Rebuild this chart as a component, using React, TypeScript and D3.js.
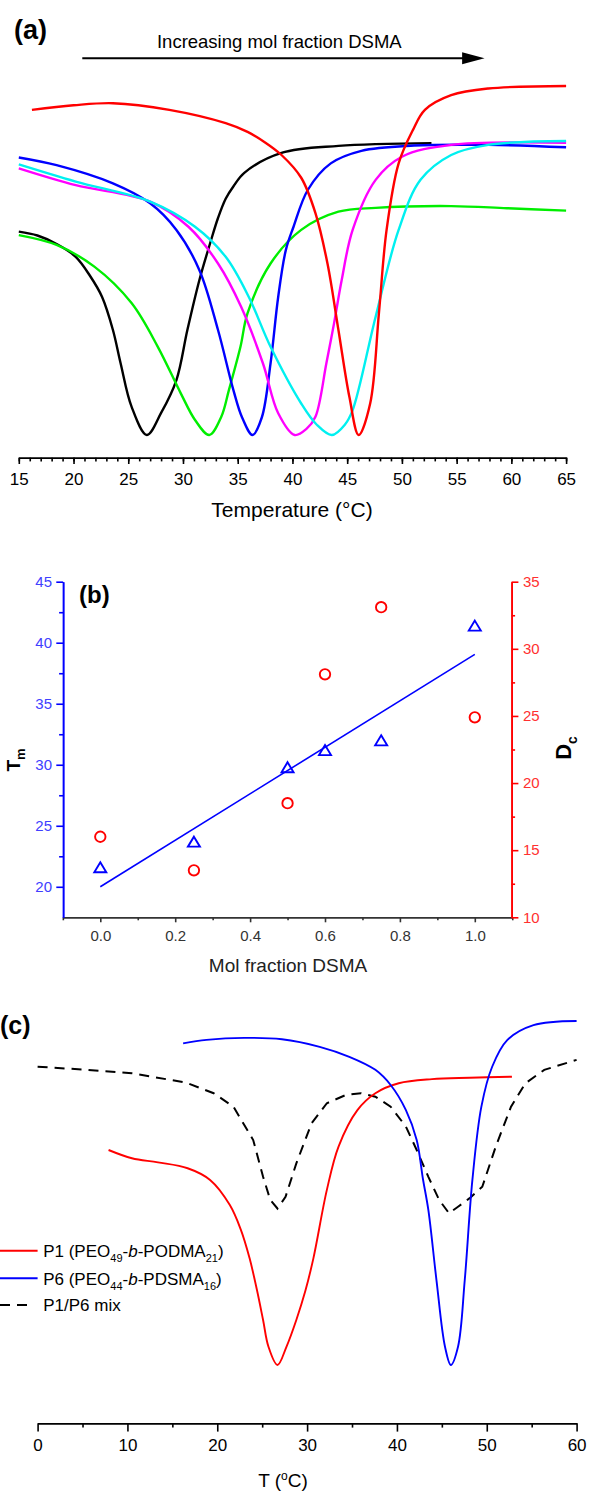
import React, { useRef, useEffect } from 'react';
import * as d3 from 'd3';

type Pt = [number, number];

// ---------- panel (a): heat flow (a.u.) vs temperature, increasing DSMA ----------
const curveBlack: Pt[] = [[15, 58.1], [16.7, 57.0], [18.5, 54.5], [20.2, 50.9], [21.5, 45.5], [22.6, 39.5], [23.6, 30], [24.3, 20.5], [25.3, 8.1], [26.7, 0], [28.0, 6.3], [29.4, 15.7], [30.4, 30], [31.5, 44.3], [32.5, 55], [33.2, 62], [33.9, 67.5], [34.6, 71], [35.6, 74.9], [39.0, 80.6], [44.2, 82.6], [52.7, 83.4]];
const curveGreen: Pt[] = [[15, 57.1], [18.45, 54.3], [21.9, 48.1], [25.3, 37.7], [27.7, 25.2], [29.8, 11.9], [31.1, 4.3], [32.4, 0], [33.5, 5.2], [34.2, 12.9], [35.25, 25.2], [35.9, 34.8], [38.0, 49], [40.8, 58.6], [44.2, 63.8], [47.6, 64.9], [54.5, 65.4], [59.6, 64.8], [65, 64.1]];
const curveBlue: Pt[] = [[15, 79.3], [18.45, 77.1], [23.6, 71.9], [27.0, 66.2], [29.4, 58.6], [31.5, 47.1], [33.2, 30], [34.6, 12.9], [35.4, 5], [36.35, 0], [37.2, 5], [38.0, 20.5], [38.7, 39.5], [39.4, 52.9], [40.1, 59.5], [41.4, 70], [43.5, 77.6], [46.3, 81.2], [51.1, 82.7], [57.9, 82.9], [65, 82.2]];
const curveMagenta: Pt[] = [[15, 76.2], [20.2, 71.4], [27.0, 66.7], [30.5, 59.5], [33.2, 49], [35.3, 36.7], [37.3, 20.5], [38.7, 6.2], [40.2, 0], [41.3, 1.8], [42.1, 5.2], [43.1, 20.5], [43.8, 31.9], [44.5, 44.3], [45.5, 58.6], [47.6, 72.9], [50.0, 79.5], [54.5, 82.9], [65, 83.5]];
const curveCyan: Pt[] = [[15, 77.3], [20.2, 72.4], [27.0, 66.7], [31.1, 59.5], [33.9, 50.9], [36.0, 39.5], [38.0, 25.2], [40.8, 9], [42.2, 3], [43.6, 0], [44.8, 3], [45.5, 7.1], [47.6, 33.8], [49.7, 58.6], [51.7, 72.9], [54.5, 80], [57.9, 82.9], [65, 84]];
const curveRed: Pt[] = [[16.2, 92.9], [20, 94.2], [23.6, 94.8], [28.75, 92.9], [33.9, 89.1], [35.9, 86.6], [37.5, 83.6], [39.0, 80.0], [40.8, 73.5], [42.1, 63.4], [43.2, 49], [44.2, 30], [45.2, 10.9], [46.05, 0], [47.1, 9], [47.9, 34.8], [48.6, 58.6], [49.7, 77.6], [51.0, 87.1], [52.1, 92.9], [54.5, 97.1], [57.9, 99], [65, 99.7]];
const ticksA = [15, 20, 25, 30, 35, 40, 45, 50, 55, 60, 65];

// ---------- panel (b): Tm and Dc vs mol fraction DSMA ----------
const fracDSMA = [0, 0.25, 0.5, 0.6, 0.75, 1.0];
const tmValues = [21.6, 23.7, 29.8, 31.2, 32.0, 41.4];
const dcValues = [16.0, 13.5, 18.5, 28.1, 33.1, 24.9];
const tmFit: Pt[] = [[0, 20.0], [1.0, 39.05]];
const ticksBx = [0, 0.2, 0.4, 0.6, 0.8, 1.0];
const minorBx = [-0.1, 0.1, 0.3, 0.5, 0.7, 0.9, 1.1];
const ticksBl = [20, 25, 30, 35, 40, 45];
const minorBl = [22.5, 27.5, 32.5, 37.5, 42.5];
const ticksBr = [10, 15, 20, 25, 30, 35];
const minorBr = [12.5, 17.5, 22.5, 27.5, 32.5];

// ---------- panel (c): P1, P6 and their mixture ----------
const curveP1: Pt[] = [[7.9, 62.5], [10.5, 60.1], [13.4, 58.9], [16.7, 57.2], [19.2, 53.8], [21.4, 46.5], [22.6, 39.5], [23.6, 31], [24.4, 22], [25.1, 13.1], [25.7, 5.3], [26.7, 0], [27.7, 5.3], [28.8, 13.1], [29.8, 21.5], [30.7, 31], [32.2, 50.9], [33.5, 63.5], [35.6, 74.1], [37.6, 79.0], [40.2, 81.9], [43.9, 83.1], [48.1, 83.5], [52.8, 83.8]];
const curveP6: Pt[] = [[16.2, 93.5], [18.8, 94.5], [23.0, 95.1], [27.2, 94.7], [31.4, 92.5], [34.7, 89.6], [37.6, 85.8], [39.3, 81.4], [41.0, 74.1], [42.2, 65.4], [42.9, 54], [43.5, 45], [44.4, 24.7], [45.35, 5.3], [46.0, 0], [46.8, 5.3], [47.55, 24.7], [48.4, 53.8], [49.4, 75.1], [50.6, 86.7], [52.3, 94.5], [55.2, 98.8], [60, 100]];
const curveMix: Pt[] = [[0, 86.7], [5, 85.9], [10.5, 84.8], [16.5, 82.1], [19.6, 79.0], [21.8, 75.1], [24.0, 65.4], [25.1, 54.7], [25.9, 48.0], [26.7, 45.5], [27.6, 48.9], [28.8, 58.6], [30.5, 70.3], [32.2, 76.1], [34.3, 78.5], [36.0, 79.0], [37.6, 78.0], [39.3, 75.1], [41.0, 69.3], [42.2, 62.5], [43.5, 54.7], [44.7, 48.0], [45.8, 44.1], [46.8, 46.0], [48.1, 48.5], [49.5, 51.8], [51.0, 63.5], [52.7, 75.1], [54.3, 81.9], [56.4, 85.8], [60, 88.7]];
const ticksC = [0, 10, 20, 30, 40, 50, 60];
const minorC = [5, 15, 25, 35, 45, 55];

const FONT = '"Liberation Sans", Arial, sans-serif';

function styleAxis(g: any, color: string, labelColor: string, size: number) {
    g.attr('font-family', null).attr('font-size', null);
    g.select('.domain').attr('stroke', color).attr('stroke-width', 1.6);
    g.selectAll('.tick line').attr('stroke', color).attr('stroke-width', 1.6);
    g.selectAll('.tick text').attr('fill', labelColor).attr('font-size', size);
}

const App = () => {
    const svgRef = useRef<SVGSVGElement>(null);

    useEffect(() => {
        const svg = d3.select(svgRef.current);
        svg.selectAll('*').remove();
        svg.attr('font-family', FONT);

        // ===== (a) =====
        const xa = d3.scaleLinear().domain([15, 65]).range([18.8, 566.1]);
        const ya = d3.scaleLinear().domain([0, 100]).range([435, 85]);
        const lineA = d3.line<Pt>().x(d => xa(d[0])).y(d => ya(d[1])).curve(d3.curveCatmullRom.alpha(0.5));

        const seriesA = [
            { color: '#000000', data: curveBlack },
            { color: '#00ee00', data: curveGreen },
            { color: '#0000ff', data: curveBlue },
            { color: '#ff00ff', data: curveMagenta },
            { color: '#00f0f0', data: curveCyan },
            { color: '#ff0000', data: curveRed },
        ];
        seriesA.forEach(s => {
            svg.append('path')
                .attr('d', lineA(s.data))
                .attr('fill', 'none')
                .attr('stroke', s.color)
                .attr('stroke-width', 2.4);
        });

        const axA = svg.append('g').attr('transform', 'translate(0,457.7)')
            .call(d3.axisBottom(xa).tickValues(d3.range(15, 65.5, 1)).tickSize(3.7).tickSizeOuter(0).tickFormat(() => ''));
        styleAxis(axA, '#000', '#000', 17);
        const axA2 = svg.append('g').attr('transform', 'translate(0,457.7)')
            .call(d3.axisBottom(xa).tickValues(ticksA).tickSize(6.3).tickPadding(8.9).tickSizeOuter(0).tickFormat(d3.format('d')));
        styleAxis(axA2, '#000', '#000', 17);

        svg.append('text').attr('x', 292).attr('y', 517).attr('text-anchor', 'middle')
            .attr('font-size', 21).text('Temperature (°C)');

        svg.append('text').attr('x', 14).attr('y', 39).attr('font-size', 27).attr('font-weight', 'bold').text('(a)');

        // arrow
        const arrowY = 58.3;
        svg.append('line').attr('x1', xa(20.8)).attr('x2', xa(55.7)).attr('y1', arrowY).attr('y2', arrowY)
            .attr('stroke', '#000').attr('stroke-width', 2);
        svg.append('path')
            .attr('d', `M${xa(55.5)},${arrowY - 6}L${xa(57.55)},${arrowY}L${xa(55.5)},${arrowY + 6}Z`)
            .attr('fill', '#000');
        svg.append('text').attr('x', xa(38.8)).attr('y', 47.7).attr('text-anchor', 'middle')
            .attr('font-size', 18.5).text('Increasing mol fraction DSMA');

        // ===== (b) =====
        const xb = d3.scaleLinear().domain([-0.1, 1.1]).range([62.85, 512.25]);
        const yl = d3.scaleLinear().domain([17.5, 45]).range([917.3, 581.7]);
        const yr = d3.scaleLinear().domain([10, 35]).range([917.3, 581.7]);

        const axBx = svg.append('g').attr('transform', 'translate(0,917.3)')
            .call(d3.axisBottom(xb).tickValues(minorBx).tickSize(3).tickSizeOuter(0).tickFormat(() => ''));
        styleAxis(axBx, '#333', '#333', 15);
        const axBx2 = svg.append('g').attr('transform', 'translate(0,917.3)')
            .call(d3.axisBottom(xb).tickValues(ticksBx).tickSize(5).tickPadding(7.7).tickSizeOuter(0).tickFormat(d3.format('.1f')));
        styleAxis(axBx2, '#333', '#333', 15);

        const axBl = svg.append('g').attr('transform', 'translate(63.1,0)')
            .call(d3.axisLeft(yl).tickValues(minorBl).tickSize(4).tickSizeOuter(0).tickFormat(() => ''));
        styleAxis(axBl, '#0000ff', '#4040ff', 15);
        const axBl2 = svg.append('g').attr('transform', 'translate(63.1,0)')
            .call(d3.axisLeft(yl).tickValues(ticksBl).tickSize(6.8).tickPadding(4.3).tickSizeOuter(0).tickFormat(d3.format('d')));
        styleAxis(axBl2, '#0000ff', '#4040ff', 15);

        const axBr = svg.append('g').attr('transform', 'translate(511.6,0)')
            .call(d3.axisRight(yr).tickValues(minorBr).tickSize(3.5).tickSizeOuter(0).tickFormat(() => ''));
        styleAxis(axBr, '#ff0000', '#ff3030', 15);
        const axBr2 = svg.append('g').attr('transform', 'translate(511.6,0)')
            .call(d3.axisRight(yr).tickValues(ticksBr).tickSize(6.8).tickPadding(4.6).tickSizeOuter(0).tickFormat(d3.format('d')));
        styleAxis(axBr2, '#ff0000', '#ff3030', 15);

        const fit = d3.line<Pt>().x(d => xb(d[0])).y(d => yl(d[1]));
        svg.append('path').attr('d', fit(tmFit)).attr('fill', 'none').attr('stroke', '#0000ff').attr('stroke-width', 1.6);

        svg.append('g').selectAll('path.tri').data(fracDSMA).join('path')
            .attr('class', 'tri')
            .attr('d', (d, i) => {
                const cx = xb(d), cy = yl(tmValues[i]);
                return `M${cx},${cy - 5}L${cx + 6},${cy + 5}L${cx - 6},${cy + 5}Z`;
            })
            .attr('fill', 'none').attr('stroke', '#0000ff').attr('stroke-width', 1.9);

        svg.append('g').selectAll('circle').data(fracDSMA).join('circle')
            .attr('cx', d => xb(d)).attr('cy', (d, i) => yr(dcValues[i])).attr('r', 5.2)
            .attr('fill', 'none').attr('stroke', '#ff0000').attr('stroke-width', 1.9);

        svg.append('text').attr('x', 79).attr('y', 603).attr('font-size', 24).attr('font-weight', 'bold').text('(b)');
        svg.append('text').attr('x', 288).attr('y', 971.7).attr('text-anchor', 'middle')
            .attr('font-size', 19).attr('fill', '#222').text('Mol fraction DSMA');

        const tmLabel = svg.append('text').attr('transform', 'translate(20,760) rotate(-90)')
            .attr('text-anchor', 'middle').attr('font-size', 19).attr('font-weight', 'bold');
        tmLabel.append('tspan').text('T');
        tmLabel.append('tspan').attr('font-size', 13).attr('dy', 5).text('m');

        const dcLabel = svg.append('text').attr('transform', 'translate(571,748) rotate(-90)')
            .attr('text-anchor', 'middle').attr('font-size', 22).attr('font-weight', 'bold');
        dcLabel.append('tspan').text('D');
        dcLabel.append('tspan').attr('font-size', 14).attr('dy', 6).text('c');

        // ===== (c) =====
        const xc = d3.scaleLinear().domain([0, 60]).range([37.6, 576.6]);
        const yc = d3.scaleLinear().domain([0, 100]).range([1365, 1021]);
        const smoothC = d3.line<Pt>().x(d => xc(d[0])).y(d => yc(d[1])).curve(d3.curveCatmullRom.alpha(0.5));
        const linC = d3.line<Pt>().x(d => xc(d[0])).y(d => yc(d[1]));

        svg.append('path').attr('d', linC(curveMix)).attr('fill', 'none').attr('stroke', '#000')
            .attr('stroke-width', 2).attr('stroke-dasharray', '10,7');
        svg.append('path').attr('d', smoothC(curveP1)).attr('fill', 'none').attr('stroke', '#ff0000').attr('stroke-width', 1.9);
        svg.append('path').attr('d', smoothC(curveP6)).attr('fill', 'none').attr('stroke', '#0000ff').attr('stroke-width', 1.9);

        const axC = svg.append('g').attr('transform', 'translate(0,1423.3)')
            .call(d3.axisBottom(xc).tickValues(minorC).tickSize(4.3).tickSizeOuter(0).tickFormat(() => ''));
        styleAxis(axC, '#000', '#000', 17);
        const axC2 = svg.append('g').attr('transform', 'translate(0,1423.3)')
            .call(d3.axisBottom(xc).tickValues(ticksC).tickSize(8.3).tickPadding(7.3).tickSizeOuter(0).tickFormat(d3.format('d')));
        styleAxis(axC2, '#000', '#000', 17);

        const tLabel = svg.append('text').attr('x', 283).attr('y', 1487).attr('text-anchor', 'middle').attr('font-size', 19);
        tLabel.append('tspan').text('T (');
        tLabel.append('tspan').attr('font-size', 12).attr('dy', -7).text('o');
        tLabel.append('tspan').attr('dy', 7).text('C)');

        svg.append('text').attr('x', 0).attr('y', 1034).attr('font-size', 25).attr('font-weight', 'bold').text('(c)');

        // legend
        const legend = [
            { color: '#ff0000', dash: null, y: 1250.7, parts: [['P1 (PEO', ''], ['49', 'sub'], ['-', ''], ['b', 'it'], ['-PODMA', ''], ['21', 'sub'], [')', '']] },
            { color: '#0000ff', dash: null, y: 1278.3, parts: [['P6 (PEO', ''], ['44', 'sub'], ['-', ''], ['b', 'it'], ['-PDSMA', ''], ['16', 'sub'], [')', '']] },
            { color: '#000', dash: '10,7', y: 1305, parts: [['P1/P6 mix', '']] },
        ];
        legend.forEach(l => {
            svg.append('line').attr('x1', 0).attr('x2', l.dash ? 28 : 37.6).attr('y1', l.y).attr('y2', l.y)
                .attr('stroke', l.color).attr('stroke-width', 2).attr('stroke-dasharray', l.dash);
            const t = svg.append('text').attr('x', 43.2).attr('y', l.y + 6.3).attr('font-size', 17);
            let shifted = false;
            l.parts.forEach(([txt, kind]) => {
                const ts = t.append('tspan').text(txt);
                if (kind === 'sub') {
                    ts.attr('font-size', 11).attr('dy', 5);
                    shifted = true;
                } else {
                    if (shifted) { ts.attr('dy', -5); shifted = false; }
                    if (kind === 'it') ts.attr('font-style', 'italic');
                }
            });
        });
    }, []);

    return (
        <div style={{ position: 'absolute', left: 0, top: 0 }}>
            <svg ref={svgRef} width={589} height={1492} style={{ display: 'block', background: '#fff' }} />
        </div>
    );
};

export default App;
